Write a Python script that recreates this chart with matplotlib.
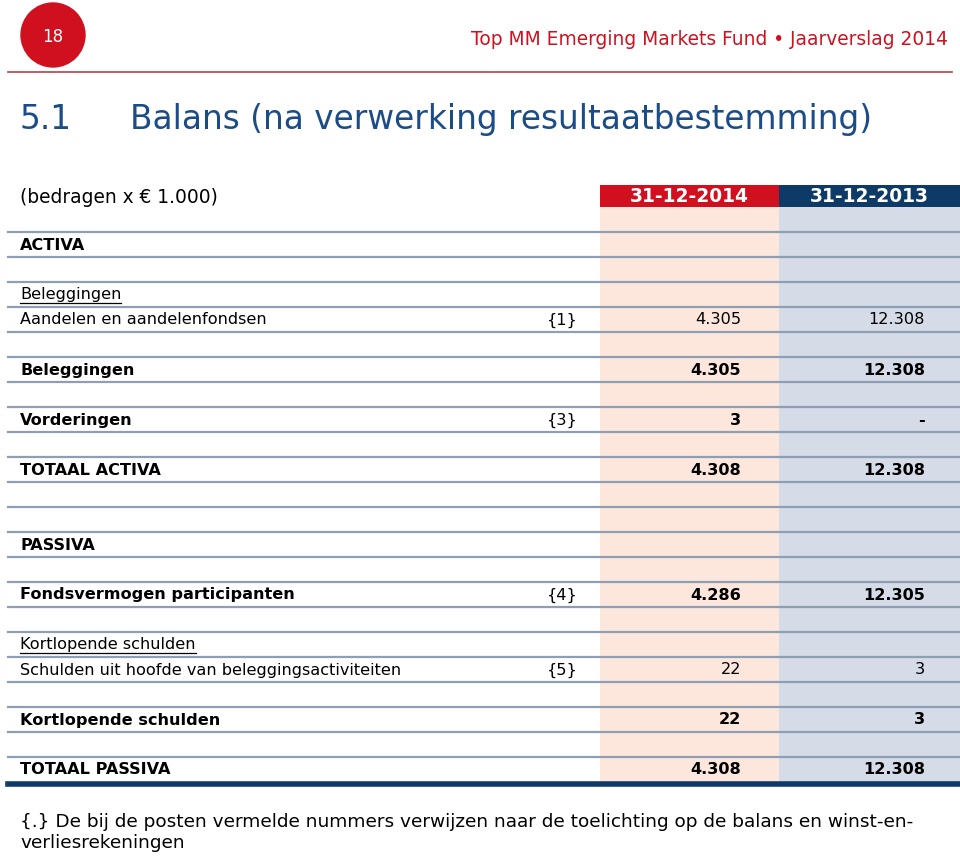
import matplotlib
matplotlib.use("Agg")
import matplotlib.pyplot as plt
from matplotlib.patches import Circle, Rectangle

plt.rcParams['font.family'] = ['DejaVu Sans']

# ---------------- data ----------------
page_number = "18"
running_title = "Top MM Emerging Markets Fund \u2022 Jaarverslag 2014"
section_number = "5.1"
section_title = "Balans (na verwerking resultaatbestemming)"
unit_label = "(bedragen x \u20ac 1.000)"
column_headers = ["31-12-2014", "31-12-2013"]

row_labels = ["ACTIVA", "", "Beleggingen", "Aandelen en aandelenfondsen", "",
              "Beleggingen", "", "Vorderingen", "", "TOTAAL ACTIVA", "", "",
              "PASSIVA", "", "Fondsvermogen participanten", "",
              "Kortlopende schulden",
              "Schulden uit hoofde van beleggingsactiviteiten", "",
              "Kortlopende schulden", "", "TOTAAL PASSIVA"]
row_notes = ["", "", "", "{1}", "", "", "", "{3}", "", "", "", "",
             "", "", "{4}", "", "", "{5}", "", "", "", ""]
values_2014 = ["", "", "", "4.305", "", "4.305", "", "3", "", "4.308", "", "",
               "", "", "4.286", "", "", "22", "", "22", "", "4.308"]
values_2013 = ["", "", "", "12.308", "", "12.308", "", "-", "", "12.308", "", "",
               "", "", "12.305", "", "", "3", "", "3", "", "12.308"]
# style: b = bold, u = underlined, n = normal
row_styles = ["b", "n", "u", "n", "n", "b", "n", "b", "n", "b", "n", "n",
              "b", "n", "b", "n", "u", "n", "n", "b", "n", "b"]
footnote_lines = ["{.} De bij de posten vermelde nummers verwijzen naar de toelichting op de balans en winst-en-",
                  "verliesrekeningen"]

# ---------------- styling ----------------
W, H = 960, 857
RED = "#d0101e"
NAVY = "#0d3a66"
PEACH = "#fde7dc"
GREYBLUE = "#d5dbe7"
RULE = "#8e9fb5"
TITLE_BLUE = "#1c4c88"
FS = 11.6

fig = plt.figure(figsize=(W / 100, H / 100), dpi=100)
ax = fig.add_axes([0, 0, 1, 1])
ax.set_xlim(0, W)
ax.set_ylim(H, 0)
ax.axis("off")

# page header
ax.add_patch(Circle((53, 35), 32, color=RED, zorder=3))
ax.text(53, 37, page_number, color="white", fontsize=12, ha="center", va="center", zorder=4)
ax.text(948, 39, running_title, color=RED, fontsize=13.4, ha="right", va="center")
ax.plot([8, 952], [72, 72], color="#b5404d", lw=1.2)

ax.text(20, 119, section_number, color=TITLE_BLUE, fontsize=23.6, ha="left", va="center")
ax.text(130, 119, section_title, color=TITLE_BLUE, fontsize=23.6, ha="left", va="center")

# table geometry
c1_left, c1_right = 600, 779
c2_left, c2_right = 779, 960
hdr_top, hdr_bot = 185, 207
row_top0 = 232
row_h = 25
n = len(row_labels)
table_bottom = row_top0 + n * row_h + 1

# column header bars
ax.add_patch(Rectangle((c1_left, hdr_top), c1_right - c1_left, hdr_bot - hdr_top, color=RED, lw=0))
ax.add_patch(Rectangle((c2_left, hdr_top), c2_right - c2_left, hdr_bot - hdr_top, color=NAVY, lw=0))
ax.text((c1_left + c1_right) / 2, 196.5, column_headers[0], color="white", fontsize=13.4,
        fontweight="bold", ha="center", va="center")
ax.text((c2_left + c2_right) / 2, 196.5, column_headers[1], color="white", fontsize=13.4,
        fontweight="bold", ha="center", va="center")
ax.text(20, 197, unit_label, color="black", fontsize=13.4, ha="left", va="center")

# column shading
ax.add_patch(Rectangle((c1_left, hdr_bot), c1_right - c1_left, table_bottom - hdr_bot, color=PEACH, lw=0, zorder=0))
ax.add_patch(Rectangle((c2_left, hdr_bot), c2_right - c2_left, table_bottom - hdr_bot, color=GREYBLUE, lw=0, zorder=0))

# rules
for i in range(n):
    y = row_top0 + i * row_h
    ax.plot([8, W], [y, y], color=RULE, lw=1.6, zorder=1)
ax.plot([8, W], [table_bottom + 1, table_bottom + 1], color=NAVY, lw=4, zorder=2)

# rows
label_texts = []
for i, (lab, note, v1, v2, st) in enumerate(zip(row_labels, row_notes, values_2014, values_2013, row_styles)):
    yc = row_top0 + i * row_h + row_h / 2 + 0.5
    w = "bold" if st == "b" else "normal"
    if lab:
        t = ax.text(20, yc, lab, fontsize=FS, fontweight=w, ha="left", va="center", zorder=3)
        label_texts.append((t, yc, st))
    if note:
        ax.text(578, yc, note, fontsize=FS, ha="right", va="center", zorder=3)
    if v1:
        ax.text(741, yc, v1, fontsize=FS, fontweight=w, ha="right", va="center", zorder=3)
    if v2:
        ax.text(925, yc, v2, fontsize=FS, fontweight=w, ha="right", va="center", zorder=3)

# underline for underlined labels
fig.canvas.draw()
renderer = fig.canvas.get_renderer()
inv = ax.transData.inverted()
for t, yc, st in label_texts:
    if st == "u":
        bb = t.get_window_extent(renderer=renderer)
        (x0, _), (x1, _) = inv.transform([(bb.x0, 0), (bb.x1, 0)])
        ax.plot([x0, x1], [yc + 7.5, yc + 7.5], color="black", lw=0.9, zorder=3)

# footnote
ax.text(20, 822, footnote_lines[0], fontsize=13.3, ha="left", va="center")
ax.text(20, 843, footnote_lines[1], fontsize=13.3, ha="left", va="center")

fig.savefig("out.png", dpi=100)
